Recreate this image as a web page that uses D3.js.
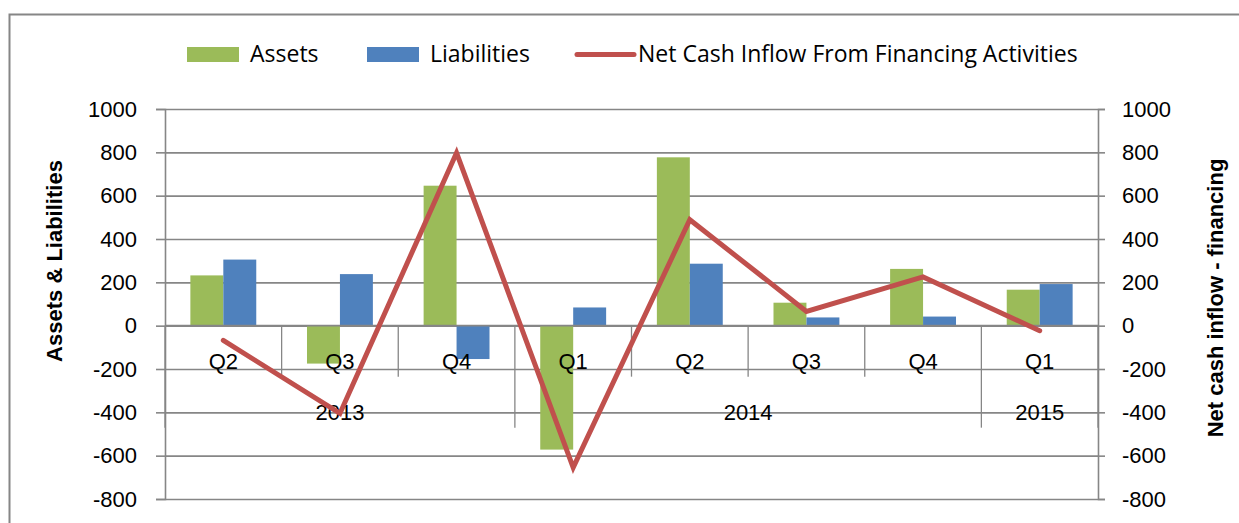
<!DOCTYPE html>
<html>
<head>
<meta charset="utf-8">
<script src="https://cdn.jsdelivr.net/npm/d3@7"></script>
<style>
  body { margin: 0; background: #fff; }
  svg text { font-family: "Liberation Sans", Arial, sans-serif; fill: #000; }
  svg .legend text { font-family: "Open Sans", "Liberation Sans", sans-serif; }
</style>
</head>
<body>
<svg id="chart" width="1239" height="523"></svg>
<script>
// chart data
var quarters = ["Q2", "Q3", "Q4", "Q1", "Q2", "Q3", "Q4", "Q1"];
var years = [
    {label: "2013", span: 3},
    {label: "2014", span: 4},
    {label: "2015", span: 1}
];
var assets = [232, -175, 646, -572, 777, 106, 262, 166];
var liabilities = [305, 238, -154, 84, 286, 38, 42, 192];
var netCash = [-68, -405, 798, -655, 489, 66, 225, -23];
var yTicks = [-800, -600, -400, -200, 0, 200, 400, 600, 800, 1000];

var seriesNames = ["Assets", "Liabilities"];
var colors = {Assets: "#9BBB59", Liabilities: "#4F81BD", line: "#C0504D"};
var gridColor = "#868686";

var margin = {top: 109, left: 165, right: 141, bottom: 24};
var width = 1239, height = 523;
var plotW = width - margin.left - margin.right;   // 933
var plotH = 499 - margin.top;                      // 390

var svg = d3.select("#chart");

// outer chart frame (cropped at right/bottom like the reference)
svg.append("rect")
    .attr("x", 9.5).attr("y", 14.5)
    .attr("width", 1400).attr("height", 700)
    .attr("fill", "none")
    .attr("stroke", gridColor)
    .attr("stroke-width", 2);

var g = svg.append("g")
    .attr("transform", "translate(" + margin.left + "," + margin.top + ")");

var idx = quarters.map((q, i) => i);

var x0 = d3.scaleBand()
    .domain(idx)
    .range([0, plotW])
    .padding(0);

var x1 = d3.scaleBand()
    .domain(seriesNames)
    .range([0, x0.bandwidth()])
    .paddingInner(0)
    .paddingOuter(0.77);

var y = d3.scaleLinear().domain([-800, 1000]).range([plotH, 0]);
var y2 = d3.scaleLinear().domain([-800, 1000]).range([plotH, 0]);
var fmt = d => String(d);

// gridlines
g.append("g")
    .attr("class", "grid")
    .call(d3.axisLeft(y).tickValues(yTicks).tickSize(-plotW).tickFormat(""))
    .call(s => s.select(".domain").remove())
    .call(s => s.selectAll("line").attr("stroke", gridColor).attr("stroke-width", 1.6));

// left axis
g.append("g")
    .call(d3.axisLeft(y).tickValues(yTicks).tickFormat(fmt).tickSize(9).tickPadding(19))
    .call(s => s.select(".domain").attr("stroke", gridColor).attr("stroke-width", 1.6))
    .call(s => s.selectAll("line").attr("stroke", gridColor).attr("stroke-width", 1.6))
    .call(s => s.selectAll("text").style("font-size", "22px").attr("font-family", null));

// right axis
g.append("g")
    .attr("transform", "translate(" + plotW + ",0)")
    .call(d3.axisRight(y2).tickValues(yTicks).tickFormat(fmt).tickSize(7).tickPadding(17))
    .call(s => s.select(".domain").attr("stroke", gridColor).attr("stroke-width", 1.6))
    .call(s => s.selectAll("line").attr("stroke", gridColor).attr("stroke-width", 1.6))
    .call(s => s.selectAll("text").style("font-size", "22px").attr("font-family", null));

// bars
var rows = idx.map(i => ({i: i, Assets: assets[i], Liabilities: liabilities[i]}));
g.append("g")
    .selectAll("g")
    .data(rows)
    .join("g")
    .attr("transform", d => "translate(" + x0(d.i) + ",0)")
    .selectAll("rect")
    .data(d => seriesNames.map(k => ({key: k, value: d[k]})))
    .join("rect")
    .attr("x", d => x1(d.key))
    .attr("width", x1.bandwidth())
    .attr("y", d => y(Math.max(0, d.value)))
    .attr("height", d => Math.abs(y(d.value) - y(0)))
    .attr("fill", d => colors[d.key]);

// category axis at zero
var zeroY = y(0);
g.append("line")
    .attr("x1", 0).attr("x2", plotW)
    .attr("y1", zeroY).attr("y2", zeroY)
    .attr("stroke", gridColor).attr("stroke-width", 1.6);

// quarter separators and year separators
var yearBounds = [0];
years.forEach(yr => yearBounds.push(yearBounds[yearBounds.length - 1] + yr.span));
var cat = g.append("g").attr("class", "cat-axis");
d3.range(quarters.length + 1).forEach(k => {
    var xp = k < quarters.length ? x0(k) : plotW;
    var isYear = yearBounds.indexOf(k) >= 0;
    cat.append("line")
        .attr("x1", xp).attr("x2", xp)
        .attr("y1", zeroY).attr("y2", zeroY + (isYear ? 102 : 51))
        .attr("stroke", gridColor).attr("stroke-width", 1.3);
});

cat.selectAll("text.q")
    .data(quarters)
    .join("text")
    .attr("class", "q")
    .attr("x", (d, i) => x0(i) + x0.bandwidth() / 2)
    .attr("y", zeroY + 43)
    .attr("text-anchor", "middle")
    .style("font-size", "22px")
    .text(d => d);

cat.selectAll("text.yr")
    .data(years)
    .join("text")
    .attr("class", "yr")
    .attr("x", (d, i) => {
        var a = yearBounds[i], b = yearBounds[i + 1];
        var xa = x0(a), xb = b < quarters.length ? x0(b) : plotW;
        return (xa + xb) / 2;
    })
    .attr("y", zeroY + 94)
    .attr("text-anchor", "middle")
    .style("font-size", "22px")
    .text(d => d.label);

// net cash line
var line = d3.line()
    .x((d, i) => x0(i) + x0.bandwidth() / 2)
    .y(d => y2(d));

g.append("path")
    .datum(netCash)
    .attr("d", line)
    .attr("fill", "none")
    .attr("stroke", colors.line)
    .attr("stroke-width", 5)
    .attr("stroke-linecap", "round")
    .attr("stroke-linejoin", "miter");

// axis titles
svg.append("text")
    .attr("transform", "translate(62,261) rotate(-90)")
    .attr("text-anchor", "middle")
    .style("font-size", "22px")
    .style("font-weight", "bold")
    .text("Assets & Liabilities");

svg.append("text")
    .attr("transform", "translate(1223,298) rotate(-90)")
    .attr("text-anchor", "middle")
    .style("font-size", "22px")
    .style("font-weight", "bold")
    .text("Net cash inflow - financing");

// legend
var legend = svg.append("g").attr("class", "legend");
var legendItems = [
    {name: "Assets", type: "bar", x: 187, tx: 250},
    {name: "Liabilities", type: "bar", x: 367, tx: 430},
    {name: "Net Cash Inflow From Financing Activities", type: "line", x: 577, tx: 638}
];
legendItems.forEach(it => {
    if (it.type == "bar") {
        legend.append("rect")
            .attr("x", it.x).attr("y", 47)
            .attr("width", 52).attr("height", 15)
            .attr("fill", colors[it.name]);
    } else {
        legend.append("line")
            .attr("x1", it.x).attr("x2", it.x + 57)
            .attr("y1", 54.5).attr("y2", 54.5)
            .attr("stroke", colors.line)
            .attr("stroke-width", 5)
            .attr("stroke-linecap", "round");
    }
    legend.append("text")
        .attr("x", it.tx).attr("y", 62)
        .style("font-size", "23px")
        .text(it.name);
});
</script>
</body>
</html>
